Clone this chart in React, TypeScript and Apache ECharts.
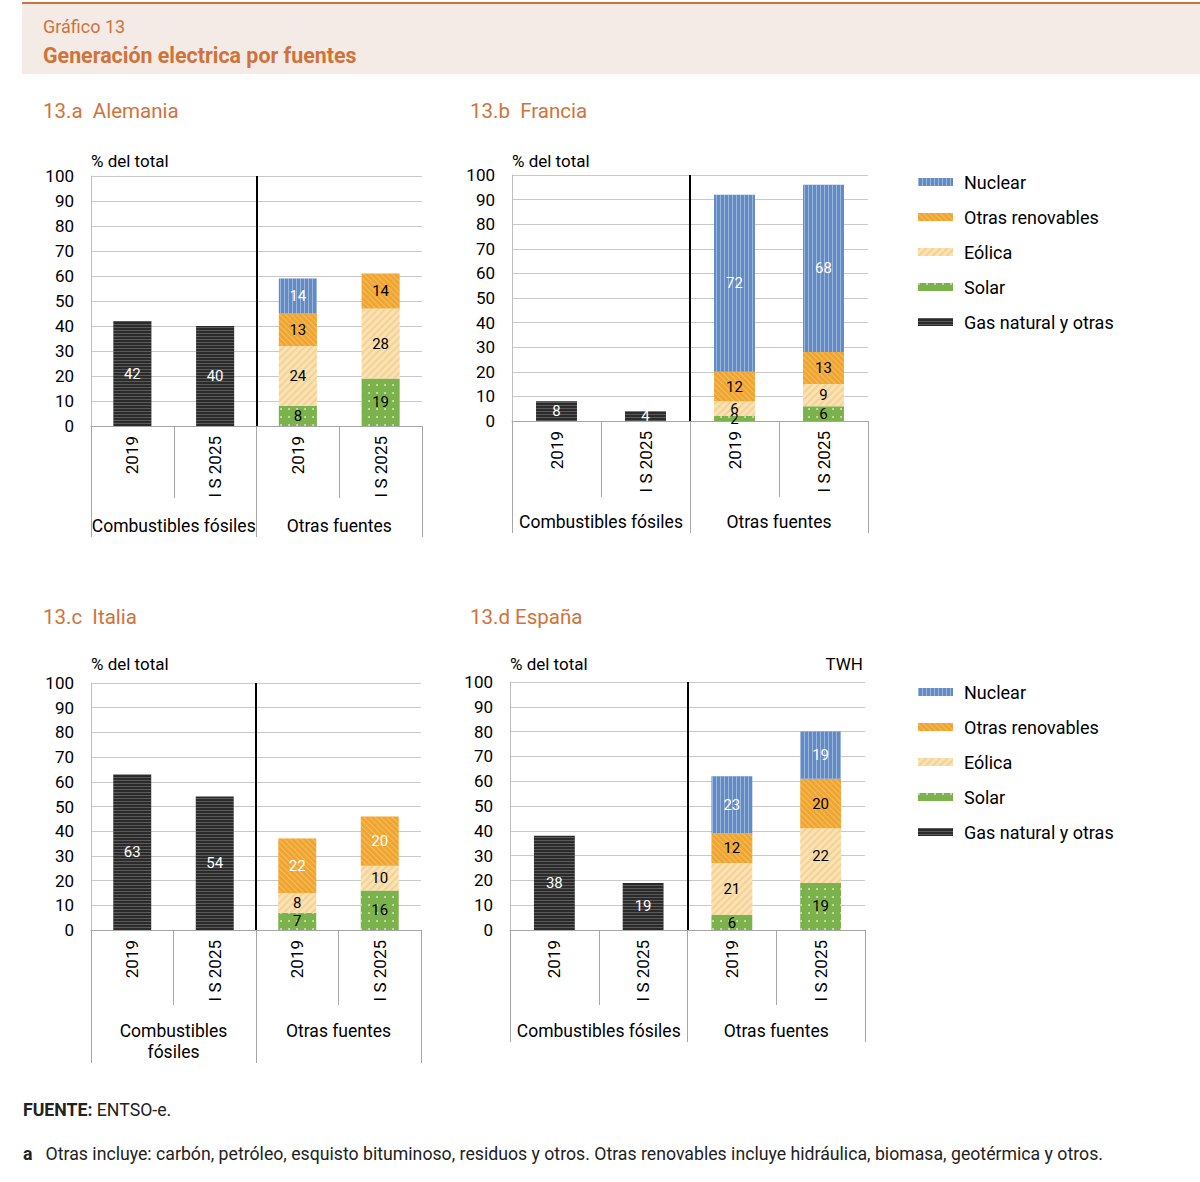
import { useEffect, useRef } from "react";
import * as echarts from "echarts";

// categorías del eje
const categories = ["2019", "I S 2025", "2019", "I S 2025"];
const groups = ["Combustibles fósiles", "Otras fuentes"];
const groupsItaly = ["Combustibles\nfósiles", "Otras fuentes"];
const yTicks = { min: 0, max: 100, interval: 10 };

// 13.a Alemania
const deGas = [42, 40, "-", "-"];
const deSolar = ["-", "-", 8, 19];
const deWind = ["-", "-", 24, 28];
const deOtherRen = ["-", "-", 13, 14];
const deNuclear = ["-", "-", 14, "-"];

// 13.b Francia
const frGas = [8, 4, "-", "-"];
const frSolar = ["-", "-", 2, 6];
const frWind = ["-", "-", 6, 9];
const frOtherRen = ["-", "-", 12, 13];
const frNuclear = ["-", "-", 72, 68];

// 13.c Italia
const itGas = [63, 54, "-", "-"];
const itSolar = ["-", "-", 7, 16];
const itWind = ["-", "-", 8, 10];
const itOtherRen = ["-", "-", 22, 20];
const itNuclear = ["-", "-", "-", "-"];

// 13.d España
const esGas = [38, 19, "-", "-"];
const esSolar = ["-", "-", 6, 19];
const esWind = ["-", "-", 21, 22];
const esOtherRen = ["-", "-", 12, 20];
const esNuclear = ["-", "-", 23, 19];

const legendNames = ["Nuclear", "Otras renovables", "Eólica", "Solar", "Gas natural y otras"];

const ORANGE = "#cf733b";
const FONT = "Roboto";

const panels = [
  {
    title: "13.a  Alemania", titleX: 43, titleY: 111,
    grid: { left: 91, top: 176, width: 331, height: 250 },
    groups, outerTick: 111, innerTick: 72, groupMargin: 89, nameGap: 15, otherRenLabel: "#000",
    data: { gas: deGas, solar: deSolar, wind: deWind, otherRen: deOtherRen, nuclear: deNuclear },
  },
  {
    title: "13.b  Francia", titleX: 470, titleY: 111,
    grid: { left: 512, top: 175, width: 356, height: 246 },
    groups, outerTick: 112, innerTick: 76, groupMargin: 90, nameGap: 14, otherRenLabel: "#000",
    data: { gas: frGas, solar: frSolar, wind: frWind, otherRen: frOtherRen, nuclear: frNuclear },
  },
  {
    title: "13.c  Italia", titleX: 43, titleY: 617,
    grid: { left: 91, top: 683, width: 330, height: 247 },
    groups: groupsItaly, outerTick: 133, innerTick: 75, groupMargin: 90, nameGap: 19, otherRenLabel: "#fff",
    data: { gas: itGas, solar: itSolar, wind: itWind, otherRen: itOtherRen, nuclear: itNuclear },
  },
  {
    title: "13.d España", titleX: 470, titleY: 617,
    grid: { left: 510, top: 682, width: 355, height: 248 },
    groups, outerTick: 112, innerTick: 75, groupMargin: 90, nameGap: 18, otherRenLabel: "#000",
    data: { gas: esGas, solar: esSolar, wind: esWind, otherRen: esOtherRen, nuclear: esNuclear },
  },
];

const seriesDefs = [
  {
    name: "Gas natural y otras", key: "gas", color: "#2b2b2b", label: "#fff",
    decal: { symbol: "rect", symbolSize: 1, dashArrayX: [1, 0], dashArrayY: [1, 2], color: "rgba(255,255,255,0.22)" },
  },
  {
    name: "Solar", key: "solar", color: "#7cb24b", label: "#000",
    decal: { symbol: "circle", symbolSize: 0.9, dashArrayX: [2, 6], dashArrayY: [2, 6], color: "rgba(255,255,255,0.7)" },
  },
  {
    name: "Eólica", key: "wind", color: "#fbe2b4", label: "#000",
    decal: { symbol: "rect", symbolSize: 1, dashArrayX: [1, 0], dashArrayY: [2, 3], rotation: -Math.PI / 4, color: "rgba(238,196,120,0.55)" },
  },
  {
    name: "Otras renovables", key: "otherRen", color: "#efa531", label: "#000",
    decal: { symbol: "rect", symbolSize: 1, dashArrayX: [1, 0], dashArrayY: [1, 3], rotation: Math.PI / 4, color: "rgba(255,214,140,0.5)" },
  },
  {
    name: "Nuclear", key: "nuclear", color: "#628ac4", label: "#fff",
    decal: { symbol: "rect", symbolSize: 1, dashArrayX: [1, 3], dashArrayY: [1, 0], color: "rgba(210,225,245,0.5)" },
  },
];

const App: React.FC = () => {
  const chartRef = useRef<HTMLDivElement>(null);

  useEffect(() => {
    document.body.style.margin = "0";
    const myChart = echarts.init(chartRef.current!, null, { renderer: "svg" });

    const grids: any[] = [];
    const xAxes: any[] = [];
    const yAxes: any[] = [];
    const series: any[] = [];
    const texts: any[] = [];

    panels.forEach((p, i) => {
      grids.push({ ...p.grid, containLabel: false });
      xAxes.push({
        type: "category",
        gridIndex: i,
        data: categories,
        position: "bottom",
        axisLine: { show: true, lineStyle: { color: "#a6a6a6", width: 1 } },
        axisTick: { show: true, length: p.innerTick, interval: 0, alignWithLabel: false, lineStyle: { color: "#a6a6a6", width: 1 } },
        axisLabel: { rotate: 90, margin: 10, fontSize: 17, color: "#000", interval: 0, fontFamily: FONT },
      });
      xAxes.push({
        type: "category",
        gridIndex: i,
        data: p.groups,
        position: "bottom",
        axisLine: { show: false },
        axisTick: { show: true, length: p.outerTick, interval: 0, alignWithLabel: false, lineStyle: { color: "#a6a6a6", width: 1 } },
        axisLabel: { margin: p.groupMargin, fontSize: 17.5, lineHeight: 21, color: "#000", interval: 0, fontFamily: FONT },
        splitLine: { show: true, showMinLine: false, showMaxLine: false, lineStyle: { color: "#000", width: 2 } },
      });
      yAxes.push({
        type: "value",
        gridIndex: i,
        ...yTicks,
        name: "% del total",
        nameLocation: "end",
        nameGap: p.nameGap,
        nameTextStyle: { align: "left", verticalAlign: "middle", fontSize: 17, color: "#000", fontFamily: FONT },
        axisLine: { show: true, lineStyle: { color: "#bdbdbd" } },
        axisTick: { show: false },
        axisLabel: { fontSize: 17, color: "#000", margin: 17, fontFamily: FONT },
        splitLine: { lineStyle: { color: "#c9c9c9" } },
      });
      seriesDefs.forEach((s) => {
        series.push({
          name: s.name,
          type: "bar",
          xAxisIndex: i * 2,
          yAxisIndex: i,
          stack: "total" + i,
          barWidth: "46%",
          data: (p.data as any)[s.key],
          itemStyle: { color: s.color, decal: s.decal },
          label: {
            show: true,
            position: "inside",
            fontSize: 15,
            fontFamily: FONT,
            color: s.key === "otherRen" ? p.otherRenLabel : s.label,
          },
        });
      });
      texts.push({
        type: "text",
        x: p.titleX,
        y: p.titleY,
        style: { text: p.title, fill: ORANGE, font: `20.5px ${FONT}`, verticalAlign: "middle" },
      });
    });

    const legendBase = {
      orient: "vertical",
      left: 913,
      itemWidth: 35,
      itemHeight: 8,
      itemGap: 17,
      icon: "rect",
      data: legendNames,
      selectedMode: false,
      textStyle: { fontSize: 18, lineHeight: 18, color: "#000", fontFamily: FONT, padding: [0, 0, 0, 6] },
    };

    const footStyle = {
      fill: "#222",
      font: `17.7px ${FONT}`,
      verticalAlign: "middle",
      rich: { b: { fontWeight: "bold", fontSize: 17.7, fontFamily: FONT, fill: "#222" } },
    };

    const option: any = {
      animation: false,
      textStyle: { fontFamily: FONT },
      grid: grids,
      xAxis: xAxes,
      yAxis: yAxes,
      legend: [
        { ...legendBase, top: 168 },
        { ...legendBase, top: 678 },
      ],
      series,
      graphic: [
        { type: "rect", shape: { x: 22, y: 4, width: 1178, height: 70 }, style: { fill: "#f4ebe6" } },
        { type: "rect", shape: { x: 22, y: 2, width: 1178, height: 2 }, style: { fill: ORANGE } },
        {
          type: "text", x: 43, y: 26,
          style: { text: "Gráfico 13", fill: ORANGE, font: `18px ${FONT}`, verticalAlign: "middle" },
        },
        {
          type: "text", x: 43, y: 55,
          style: { text: "Generación electrica por fuentes", fill: ORANGE, font: `bold 21.4px ${FONT}`, verticalAlign: "middle" },
        },
        ...texts,
        {
          type: "text", x: 863, y: 664,
          style: { text: "TWH", fill: "#000", font: `17px ${FONT}`, align: "right", verticalAlign: "middle" },
        },
        {
          type: "text", x: 23, y: 1110,
          style: { ...footStyle, text: "{b|FUENTE:} ENTSO-e." },
        },
        {
          type: "text", x: 23, y: 1154,
          style: {
            ...footStyle,
            text: "{b|a}   Otras incluye: carbón, petróleo, esquisto bituminoso, residuos y otros. Otras renovables incluye hidráulica, biomasa, geotérmica y otros.",
          },
        },
      ],
    };
    myChart.setOption(option);

    return () => {
      myChart.dispose();
    };
  }, []);

  return <div ref={chartRef} style={{ width: "1200px", height: "1182px" }} />;
};
export default App;
